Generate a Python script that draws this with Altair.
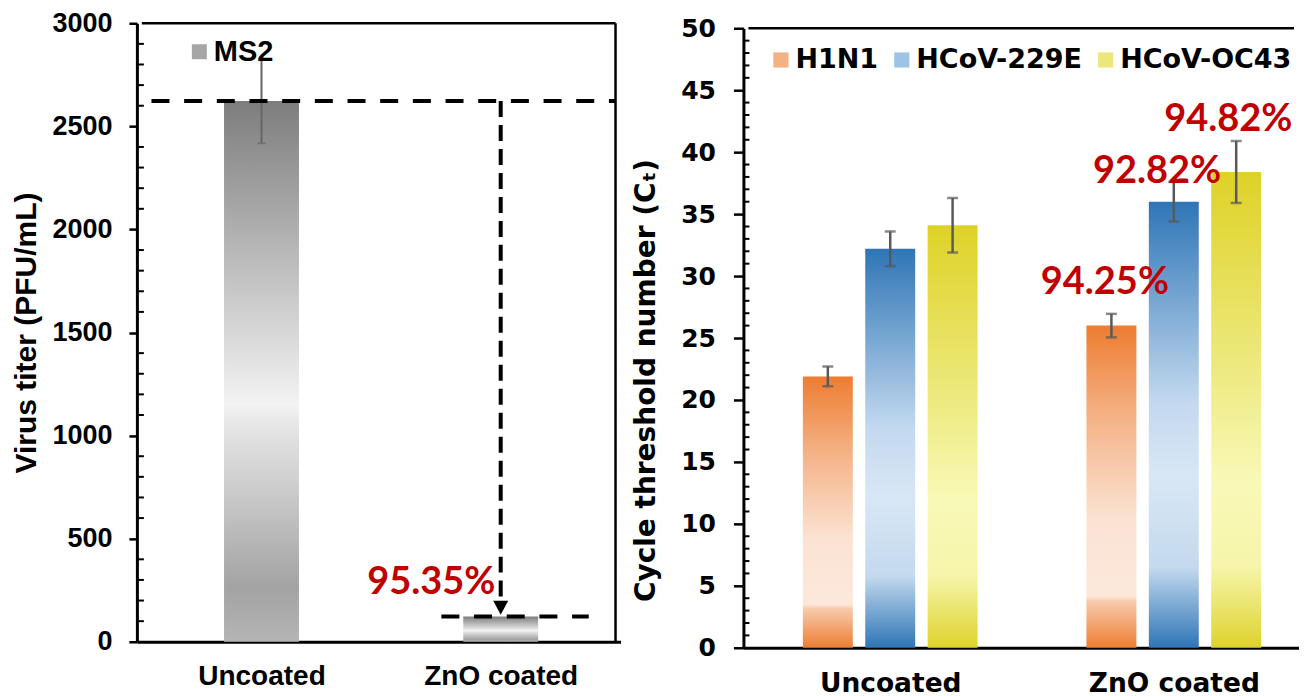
import altair as alt
import pandas as pd

# ---------------- data ----------------
ms2_series = "MS2"
ms2_groups = ["Uncoated", "ZnO coated"]
ms2_titer = [2623, 122]
ms2_error = [205, 0]
ms2_reduction = "95.35%"

ct_groups = ["Uncoated", "ZnO coated"]
ct_series = ["H1N1", "HCoV-229E", "HCoV-OC43"]
ct_h1n1 = [21.9, 26.0]
ct_229e = [32.2, 36.0]
ct_oc43 = [34.1, 38.4]
ct_err_h1n1 = [0.8, 0.95]
ct_err_229e = [1.4, 1.6]
ct_err_oc43 = [2.2, 2.5]
ct_reduction = ["94.25%", "92.82%", "94.82%"]

left_ticks = [0, 500, 1000, 1500, 2000, 2500, 3000]
right_ticks = [0, 5, 10, 15, 20, 25, 30, 35, 40, 45, 50]

# ---------------- styles ----------------
LF = "Liberation Sans"
RF = "DejaVu Sans"
PF = "Lato"
RED = "#C00000"
ERR = "#595959"
LMAX = 2.48
RW = 556
RMAX = 0.5 + RW / 289.0


def grad(stops):
    return alt.Gradient(
        gradient="linear", x1=0, y1=0, x2=0, y2=1,
        stops=[alt.GradientStop(offset=o, color=c) for o, c in stops],
    )


gray_fill = grad([(0, "#7d7d7d"), (0.56, "#f3f3f3"), (0.6, "#e6e6e6"),
                  (0.9, "#a3a3a3"), (1, "#b5b5b5")])
series_fill = {
    "H1N1": grad([(0, "#ED7D31"), (0.3, "#F5B58B"), (0.6, "#FBE3D3"),
                  (0.84, "#FCE8DB"), (0.855, "#F8CBAD"), (1, "#ED7D31")]),
    "HCoV-229E": grad([(0, "#2E75B6"), (0.45, "#C3D9EF"), (0.62, "#D9E7F5"),
                       (0.82, "#C3D9EE"), (1, "#2E75B6")]),
    "HCoV-OC43": grad([(0, "#DED226"), (0.45, "#EFEC88"), (0.65, "#F9F9B8"),
                       (0.83, "#F6F5AA"), (1, "#DDD32B")]),
}
legend_colors = ["#F4B183", "#9DC3E6", "#EDE67A"]

# ---------------- left panel ----------------
df_l = pd.DataFrame({
    "group": ms2_groups,
    "pos": [1, 2],
    "titer": ms2_titer,
    "err": ms2_error,
})
df_l["lo"] = df_l["titer"] - df_l["err"]
df_l["hi"] = df_l["titer"] + df_l["err"]
df_l["series"] = ms2_series

lx = alt.Scale(domain=[0.5, LMAX], nice=False, zero=False)
ly = alt.Scale(domain=[0, 3000], nice=False)
l_expr = "[" + ",".join(f"'{g}'" for g in ms2_groups) + "][datum.value - 1]"

lxaxis = alt.Axis(values=[1, 2], labelExpr=l_expr, title=None, ticks=False,
                  tickSize=0, grid=False, domainColor="black", domainWidth=3,
                  labelFont=LF, labelFontSize=28, labelFontWeight="bold",
                  labelColor="black", labelPadding=21)
lyaxis = alt.Axis(values=left_ticks, format="d", title="Virus titer (PFU/mL)",
                  grid=False, tickSize=8, tickWidth=2.5, tickColor="black",
                  domainColor="black", domainWidth=3,
                  labelFont=LF, labelFontSize=27, labelFontWeight="bold",
                  labelColor="black", labelPadding=17,
                  titleFont=LF, titleFontSize=30, titleFontWeight="bold",
                  titleColor="black", titlePadding=10)

base_l = alt.Chart(df_l)
bars_l = base_l.mark_bar(size=75, fill=gray_fill, strokeWidth=0).encode(
    x=alt.X("pos:Q", scale=lx, axis=lxaxis),
    y=alt.Y("titer:Q", scale=ly, axis=lyaxis),
)
err_l = base_l.transform_filter("datum.err > 0").mark_rule(
    color="#666666", strokeWidth=2).encode(
    x=alt.X("pos:Q", scale=lx), y=alt.Y("lo:Q", scale=ly), y2="hi:Q")
cap_l = base_l.transform_filter("datum.err > 0").mark_tick(
    color="#666666", orient="horizontal", size=8, thickness=2).encode(
    x=alt.X("pos:Q", scale=lx), y=alt.Y("lo:Q", scale=ly))

minor_l = alt.Chart(pd.DataFrame({"v": [v for v in range(100, 3000, 100) if v % 500]})
                    ).mark_rule(color="black", strokeWidth=2).encode(
    y=alt.Y("v:Q", scale=ly), x=alt.value(0), x2=alt.value(7))

frame_l = alt.Chart(pd.DataFrame({
    "x": [0.5, LMAX], "x2": [LMAX, LMAX], "y": [3000, 0], "y2": [3000, 3000]
})).mark_rule(color="black", strokeWidth=2.5).encode(
    x=alt.X("x:Q", scale=lx), x2="x2:Q", y=alt.Y("y:Q", scale=ly), y2="y2:Q")

dash_l = alt.Chart(pd.DataFrame({
    "x": [0.54, 1.752], "x2": [LMAX, 2.368],
    "y": [ms2_titer[0], ms2_titer[1]],
})).mark_rule(color="black", strokeWidth=4, strokeDash=[18, 14.7]).encode(
    x=alt.X("x:Q", scale=lx), x2="x2:Q", y=alt.Y("y:Q", scale=ly))

vdash_l = alt.Chart(pd.DataFrame({"x": [2], "y": [ms2_titer[0]], "y2": [199]})
                    ).mark_rule(color="black", strokeWidth=4, strokeDash=[16, 8]).encode(
    x=alt.X("x:Q", scale=lx), y=alt.Y("y:Q", scale=ly), y2="y2:Q")

arrow_l = alt.Chart(pd.DataFrame({"x": [2], "y": [165]})).mark_point(
    shape="M-1,-0.93L1,-0.93L0,0.93Z", size=225, filled=True, color="black",
    opacity=1, strokeWidth=0).encode(
    x=alt.X("x:Q", scale=lx), y=alt.Y("y:Q", scale=ly))

text_l = alt.Chart(pd.DataFrame({"x": [1.71], "y": [232.6], "t": [ms2_reduction]})
                   ).mark_text(font=PF, fontSize=38, fontWeight="bold", color=RED,
                               align="center", baseline="alphabetic").encode(
    x=alt.X("x:Q", scale=lx), y=alt.Y("y:Q", scale=ly), text="t:N")

legend_l = base_l.mark_point(opacity=0, filled=True).encode(
    x=alt.X("pos:Q", scale=lx), y=alt.Y("titer:Q", scale=ly),
    color=alt.Color("series:N",
                    scale=alt.Scale(domain=[ms2_series], range=["#a6a6a6"]),
                    legend=alt.Legend(orient="none", legendX=48, legendY=14,
                                      title=None, symbolType="square",
                                      symbolSize=225, symbolOpacity=1,
                                      symbolStrokeWidth=0, labelOffset=0,
                                      labelLimit=0,
                                      labelFont=LF, labelFontSize=29,
                                      labelFontWeight="bold", labelColor="black",
                                      padding=0)))

left = alt.layer(bars_l, err_l, cap_l, minor_l, frame_l, dash_l, vdash_l,
                 arrow_l, text_l, legend_l).properties(width=484, height=619)

# ---------------- right panel ----------------
rows = []
vals = [ct_h1n1, ct_229e, ct_oc43]
errs = [ct_err_h1n1, ct_err_229e, ct_err_oc43]
for si, s in enumerate(ct_series):
    for gi, g in enumerate(ct_groups):
        rows.append({"group": g, "gi": gi + 1, "si": si, "series": s,
                     "ct": vals[si][gi], "err": errs[si][gi]})
df_r = pd.DataFrame(rows)

rx = alt.Scale(domain=[0.5, RMAX], nice=False, zero=False)
ry = alt.Scale(domain=[0, 50], nice=False, range=[625, 5])
r_expr = "[" + ",".join(f"'{g}'" for g in ct_groups) + "][datum.value - 1]"

rxaxis = alt.Axis(values=[1, 2], labelExpr=r_expr, title=None, ticks=False,
                  tickSize=0, grid=False, domainColor="black", domainWidth=3,
                  labelFont=RF, labelFontSize=26.5, labelFontWeight="bold",
                  labelColor="black", labelPadding=23)
ryaxis = alt.Axis(values=right_ticks, title="Cycle threshold number (Cₜ)",
                  grid=False, tickSize=10, tickWidth=2.5, tickColor="black",
                  domainColor="black", domainWidth=3,
                  labelFont=RF, labelFontSize=25, labelFontWeight="bold",
                  labelColor="black", labelPadding=18,
                  titleFont=RF, titleFontSize=28, titleFontWeight="bold",
                  titleColor="black", titlePadding=20, titleY=357)

base_r = alt.Chart(df_r).transform_calculate(
    xpos="datum.gi + (datum.si - 1) * 0.22",
    lo="datum.ct - datum.err",
    hi="datum.ct + datum.err",
)

bar_layers = []
for s in ct_series:
    bar_layers.append(
        base_r.transform_filter(alt.datum.series == s)
        .mark_bar(size=50, fill=series_fill[s], strokeWidth=0)
        .encode(x=alt.X("xpos:Q", scale=rx, axis=rxaxis),
                y=alt.Y("ct:Q", scale=ry, axis=ryaxis)))

err_r = base_r.mark_rule(color=ERR, strokeWidth=2.5).encode(
    x=alt.X("xpos:Q", scale=rx), y=alt.Y("lo:Q", scale=ry), y2="hi:Q")
cap_r_lo = base_r.mark_tick(color=ERR, orient="horizontal", size=11,
                            thickness=2.5).encode(
    x=alt.X("xpos:Q", scale=rx), y=alt.Y("lo:Q", scale=ry))
cap_r_hi = base_r.mark_tick(color=ERR, orient="horizontal", size=11,
                            thickness=2.5).encode(
    x=alt.X("xpos:Q", scale=rx), y=alt.Y("hi:Q", scale=ry))

minor_r = alt.Chart(pd.DataFrame({"v": [v for v in range(1, 50) if v % 5]})
                    ).mark_rule(color="black", strokeWidth=2).encode(
    y=alt.Y("v:Q", scale=ry), x=alt.value(0), x2=alt.value(6))

top_r = alt.Chart(pd.DataFrame({"x": [0.5], "x2": [RMAX], "y": [50]})
                  ).mark_rule(color="black", strokeWidth=2.5).encode(
    x=alt.X("x:Q", scale=rx), x2="x2:Q", y=alt.Y("y:Q", scale=ry))

text_r = alt.Chart(pd.DataFrame({
    "x": [1.757, 1.941, 2.192], "y": [28.55, 37.5, 41.7], "t": ct_reduction
})).mark_text(font=PF, fontSize=38, fontWeight="bold", color=RED,
              align="center", baseline="alphabetic").encode(
    x=alt.X("x:Q", scale=rx), y=alt.Y("y:Q", scale=ry), text="t:N")

legend_r = base_r.mark_point(opacity=0, filled=True).encode(
    x=alt.X("xpos:Q", scale=rx), y=alt.Y("ct:Q", scale=ry),
    color=alt.Color("series:N",
                    scale=alt.Scale(domain=ct_series, range=legend_colors),
                    legend=alt.Legend(orient="none", legendX=24, legendY=23,
                                      direction="horizontal", title=None,
                                      symbolType="square", symbolSize=230,
                                      symbolOpacity=1, symbolStrokeWidth=0,
                                      labelOffset=1, columnPadding=10,
                                      labelLimit=0,
                                      labelFont=RF, labelFontSize=27,
                                      labelFontWeight="bold",
                                      labelColor="black", padding=0)))

right = alt.layer(*bar_layers, err_r, cap_r_lo, cap_r_hi, minor_r, top_r,
                  text_r, legend_r).properties(width=RW, height=625)

chart = alt.hconcat(left, right, spacing=123, bounds="flush").resolve_scale(
    color="independent"
).properties(
    padding={"left": 3, "top": 1, "right": 0, "bottom": 0}
).configure_view(strokeWidth=0)

chart.save("out.html", embed_options={"renderer": "svg", "actions": False})
